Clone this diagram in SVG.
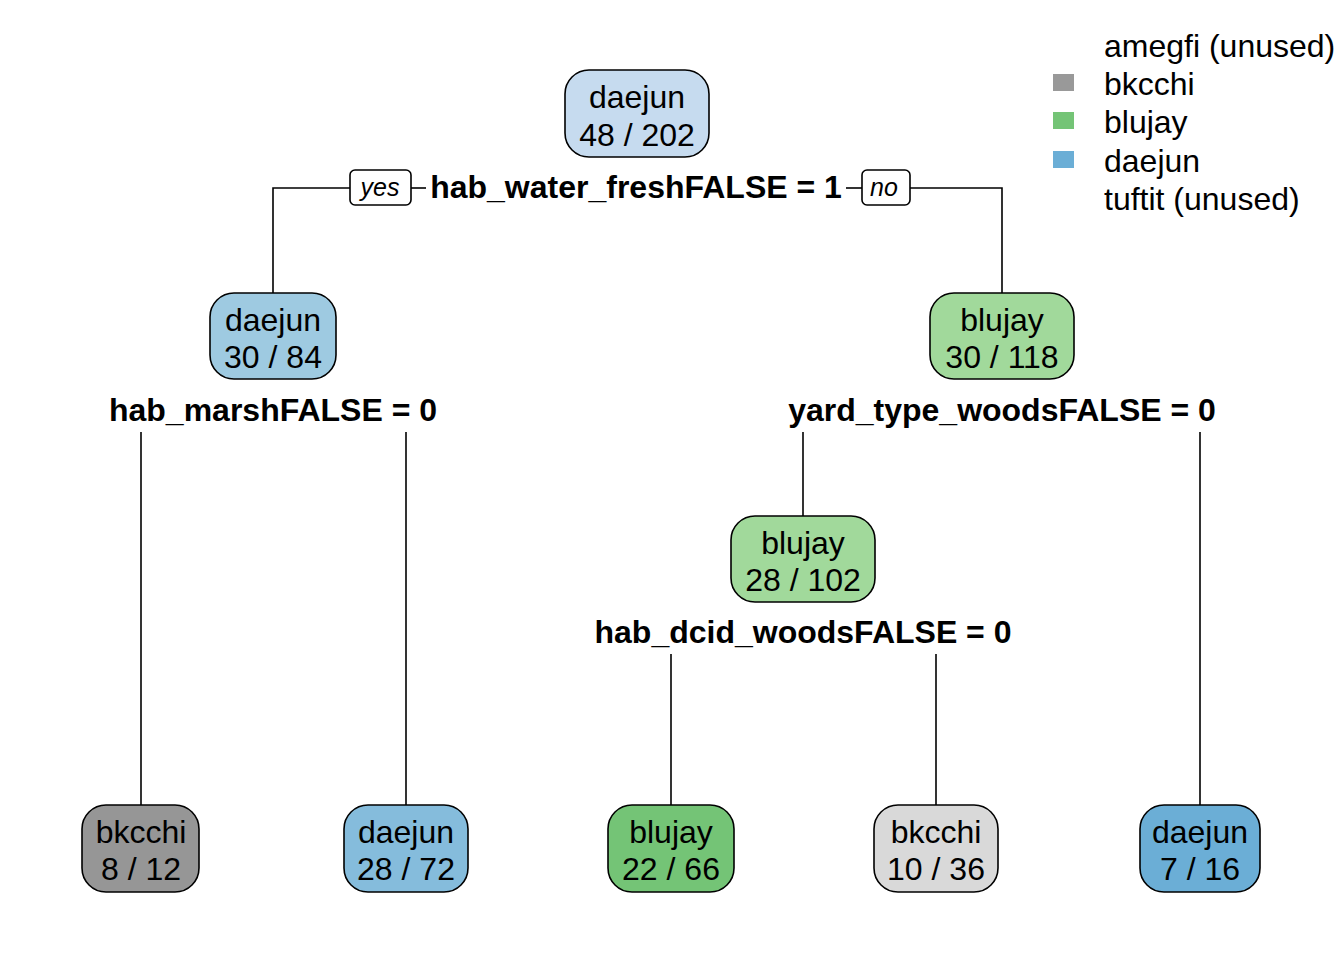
<svg xmlns="http://www.w3.org/2000/svg" width="1344" height="960" viewBox="0 0 1344 960">
<style>
text{font-family:"Liberation Sans",Arial,sans-serif;fill:#000}
.nt{font-size:32px;text-anchor:middle}
.sp{font-size:32px;font-weight:bold;text-anchor:middle}
.yn{font-size:25px;font-style:italic;text-anchor:middle}
.lg{font-size:32px}
.box{stroke:#000;stroke-width:1.6}
.ln{stroke:#000;stroke-width:1.6;fill:none}
</style>
<rect width="1344" height="960" fill="#fff"/>
<g id="connectors">
<polyline class="ln" points="350,188 273,188 273,293"/>
<polyline class="ln" points="910,188 1002,188 1002,293"/>
<line class="ln" x1="411" y1="188" x2="426" y2="188"/>
<line class="ln" x1="846" y1="188" x2="862" y2="188"/>
<line class="ln" x1="141" y1="432" x2="141" y2="805"/>
<line class="ln" x1="406" y1="432" x2="406" y2="805"/>
<line class="ln" x1="803" y1="432" x2="803" y2="516"/>
<line class="ln" x1="1200" y1="432" x2="1200" y2="805"/>
<line class="ln" x1="671" y1="654" x2="671" y2="805"/>
<line class="ln" x1="936" y1="654" x2="936" y2="805"/>
<rect class="box" x="350" y="170" width="61" height="35" rx="5" fill="#fff"/>
<text class="yn" x="380" y="196">yes</text>
<rect class="box" x="862" y="170" width="48" height="35" rx="5" fill="#fff"/>
<text class="yn" x="884" y="196">no</text>
</g>
<g id="n1">
<rect class="box" x="565" y="70" width="144" height="87" rx="24" fill="#c6dbef"/>
<text class="nt" x="637" y="108">daejun</text>
<text class="nt" x="637" y="146">48 / 202</text>
<text class="sp" x="636" y="198">hab_water_freshFALSE = 1</text>
</g>
<g id="n2">
<rect class="box" x="210" y="293" width="126" height="86" rx="24" fill="#9ecae1"/>
<text class="nt" x="273" y="331">daejun</text>
<text class="nt" x="273" y="368">30 / 84</text>
<text class="sp" x="273" y="421">hab_marshFALSE = 0</text>
</g>
<g id="n3">
<rect class="box" x="930" y="293" width="144" height="86" rx="24" fill="#a1d99b"/>
<text class="nt" x="1002" y="331">blujay</text>
<text class="nt" x="1002" y="368">30 / 118</text>
<text class="sp" x="1002" y="421">yard_type_woodsFALSE = 0</text>
</g>
<g id="n6">
<rect class="box" x="731" y="516" width="144" height="86" rx="24" fill="#a1d99b"/>
<text class="nt" x="803" y="554">blujay</text>
<text class="nt" x="803" y="591">28 / 102</text>
<text class="sp" x="803" y="643">hab_dcid_woodsFALSE = 0</text>
</g>
<g id="n4">
<rect class="box" x="82" y="805" width="117" height="87" rx="24" fill="#969696"/>
<text class="nt" x="141" y="843">bkcchi</text>
<text class="nt" x="141" y="880">8 / 12</text>
</g>
<g id="n5">
<rect class="box" x="344" y="805" width="124" height="87" rx="24" fill="#85bcdc"/>
<text class="nt" x="406" y="843">daejun</text>
<text class="nt" x="406" y="880">28 / 72</text>
</g>
<g id="n12">
<rect class="box" x="608" y="805" width="126" height="87" rx="24" fill="#74c476"/>
<text class="nt" x="671" y="843">blujay</text>
<text class="nt" x="671" y="880">22 / 66</text>
</g>
<g id="n13">
<rect class="box" x="874" y="805" width="124" height="87" rx="24" fill="#d9d9d9"/>
<text class="nt" x="936" y="843">bkcchi</text>
<text class="nt" x="936" y="880">10 / 36</text>
</g>
<g id="n7">
<rect class="box" x="1140" y="805" width="120" height="87" rx="24" fill="#6baed6"/>
<text class="nt" x="1200" y="843">daejun</text>
<text class="nt" x="1200" y="880">7 / 16</text>
</g>
<g id="legend">
<rect x="1053" y="74" width="21" height="17" fill="#999999"/>
<rect x="1053" y="112" width="21" height="17" fill="#74c476"/>
<rect x="1053" y="151" width="21" height="17" fill="#6baed6"/>
<text class="lg" x="1104" y="57">amegfi (unused)</text>
<text class="lg" x="1104" y="95">bkcchi</text>
<text class="lg" x="1104" y="133">blujay</text>
<text class="lg" x="1104" y="172">daejun</text>
<text class="lg" x="1104" y="210">tuftit (unused)</text>
</g>
</svg>
